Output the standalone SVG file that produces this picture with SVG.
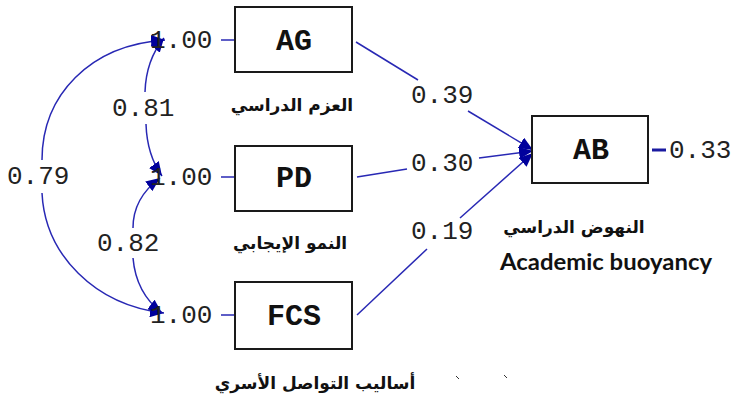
<svg xmlns="http://www.w3.org/2000/svg" width="731" height="399" viewBox="0 0 731 399">
<style>
.box{fill:#fff;stroke:#1a1a1a;stroke-width:2}
.lbl{font-family:"Liberation Mono","Courier New",monospace;font-weight:bold;font-size:30px;fill:#111;text-anchor:middle}
.num{font-family:"Liberation Mono","Courier New",monospace;font-size:26px;fill:#222}
.ar{font-family:"DejaVu Sans",sans-serif;font-weight:bold;font-size:17px;fill:#111;text-anchor:middle}
.en{font-family:"Lato","Open Sans",sans-serif;font-weight:bold;font-size:22px;fill:#111}
.c{fill:none;stroke:#2828b4;stroke-width:1.5}
.arr{marker-end:url(#ah)}
</style>
<defs>
<marker id="ah" markerUnits="userSpaceOnUse" markerWidth="16" markerHeight="12" refX="14" refY="6" orient="auto">
<path d="M0,0 L14,6 L0,12 Z" fill="#00009c"/>
</marker>
</defs>
<g id="connectors">
<line class="c" x1="221" y1="40" x2="235" y2="40"/>
<line class="c" x1="221" y1="177" x2="235" y2="177"/>
<line class="c" x1="221" y1="315" x2="235" y2="315"/>
<line x1="652" y1="150" x2="666" y2="150" stroke="#1a1aa0" stroke-width="3"/>
<path class="c arr" d="M145,92 Q146,60 164,38"/>
<path class="c arr" d="M146,124 Q147,155 162,176"/>
<path class="c arr" d="M42,160 C42,95 90,45 165,40"/>
<path class="c arr" d="M42,193 C45,255 95,305 164,313"/>
<path class="c arr" d="M133,228 Q133,198 160,178"/>
<path class="c arr" d="M133,258 Q136,293 162,313"/>
<line class="c" x1="356" y1="42" x2="418" y2="80"/>
<line class="c arr" x1="468" y1="111" x2="533" y2="150"/>
<line class="c" x1="357" y1="177" x2="407" y2="169"/>
<line class="c arr" x1="479" y1="158" x2="533" y2="151"/>
<line class="c" x1="357" y1="315" x2="427" y2="249"/>
<line class="c arr" x1="460" y1="218" x2="533" y2="153"/>
</g>
<g id="AG">
<rect class="box" x="235" y="7" width="117" height="65"/>
<text class="lbl" x="294" y="50">AG</text>
<text class="ar" x="292" y="111" direction="rtl">العزم الدراسي</text>
</g>
<g id="PD">
<rect class="box" x="235" y="146" width="117" height="65"/>
<text class="lbl" x="294" y="187">PD</text>
<text class="ar" x="290" y="249" direction="rtl">النمو الإيجابي</text>
</g>
<g id="FCS">
<rect class="box" x="235" y="282" width="117" height="67"/>
<text class="lbl" x="294" y="325">FCS</text>
<text class="ar" x="315" y="389" direction="rtl">أساليب التواصل الأسري</text>
</g>
<g id="AB">
<rect class="box" x="532" y="116" width="116" height="67"/>
<text class="lbl" x="591" y="159">AB</text>
<text class="ar" x="574" y="233" direction="rtl">النهوض الدراسي</text>
<text class="en" x="500" y="270" textLength="212" lengthAdjust="spacingAndGlyphs">Academic buoyancy</text>
</g>
<g id="values">
<text class="num" x="150" y="48">1.00</text>
<text class="num" x="150" y="185">1.00</text>
<text class="num" x="150" y="323">1.00</text>
<text class="num" x="112" y="116">0.81</text>
<text class="num" x="7" y="184">0.79</text>
<text class="num" x="97" y="251">0.82</text>
<text class="num" x="411" y="103">0.39</text>
<text class="num" x="411" y="171">0.30</text>
<text class="num" x="411" y="239">0.19</text>
<text class="num" x="669" y="158">0.33</text>
</g>
<g id="marks" stroke="#333" stroke-width="1">
<line x1="456" y1="376" x2="459" y2="379"/>
<line x1="504" y1="375" x2="507" y2="378"/>
</g>
</svg>
